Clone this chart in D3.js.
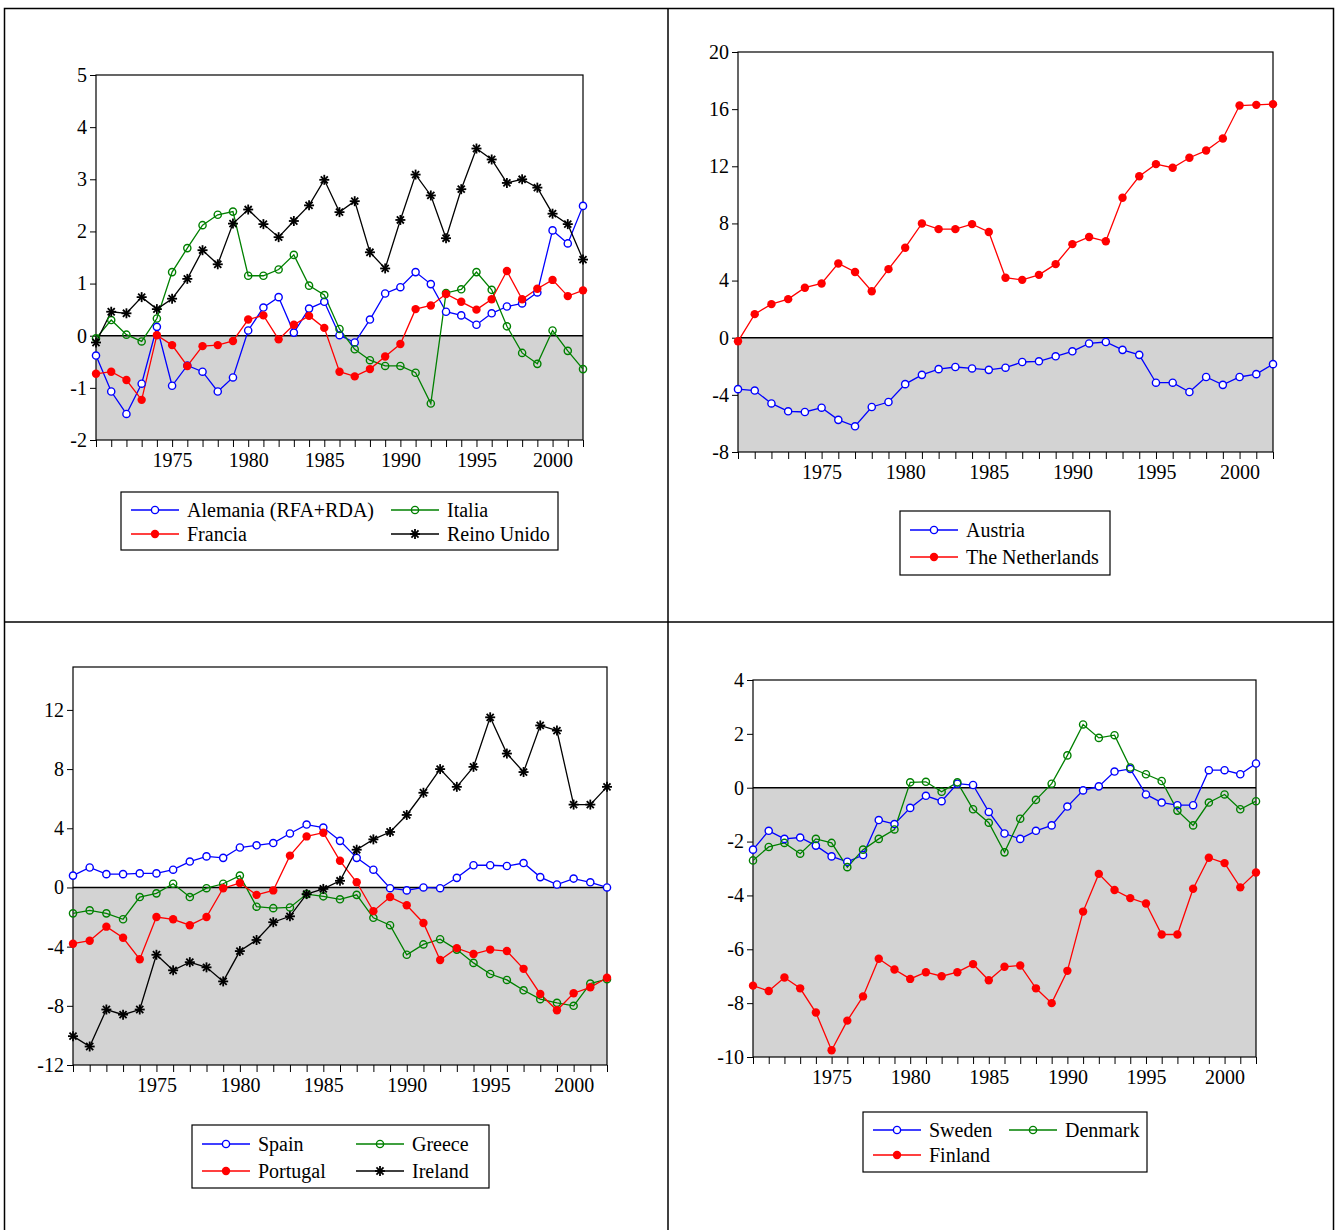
<!DOCTYPE html>
<html><head><meta charset="utf-8">
<script src="https://cdn.jsdelivr.net/npm/d3@7"></script>
<style>body{margin:0;background:#fff}svg{display:block}text{font-family:"Liberation Serif","Times New Roman",serif;fill:#000}</style>
</head><body><svg id="c" width="1336" height="1230"></svg>
<script>
const years = d3.range(1970, 2003);
const xTicks = [1975, 1980, 1985, 1990, 1995, 2000];

const alemania = [-0.38,-1.07,-1.5,-0.92,0.17,-0.96,-0.57,-0.69,-1.07,-0.8,0.1,0.54,0.74,0.06,0.52,0.65,0.01,-0.13,0.31,0.81,0.93,1.22,0.99,0.46,0.39,0.21,0.43,0.56,0.62,0.83,2.02,1.77,2.49];
const francia = [-0.73,-0.69,-0.85,-1.23,0.01,-0.18,-0.58,-0.2,-0.18,-0.1,0.31,0.39,-0.07,0.21,0.38,0.15,-0.69,-0.78,-0.64,-0.4,-0.16,0.51,0.58,0.8,0.65,0.5,0.7,1.24,0.7,0.9,1.07,0.76,0.87];
const italia = [-0.05,0.3,0.02,-0.11,0.33,1.22,1.68,2.12,2.32,2.38,1.15,1.15,1.27,1.55,0.96,0.78,0.13,-0.26,-0.47,-0.58,-0.58,-0.71,-1.3,0.82,0.89,1.22,0.88,0.18,-0.33,-0.54,0.1,-0.29,-0.64];
const reinoUnido = [-0.13,0.46,0.43,0.74,0.51,0.71,1.09,1.64,1.37,2.15,2.42,2.14,1.89,2.2,2.5,2.99,2.37,2.58,1.6,1.29,2.22,3.09,2.69,1.87,2.81,3.59,3.38,2.93,3.0,2.84,2.34,2.14,1.46];

const netherlands = [-0.25,1.65,2.35,2.7,3.5,3.8,5.2,4.6,3.25,4.8,6.3,8.0,7.6,7.6,7.95,7.4,4.2,4.05,4.4,5.15,6.55,7.05,6.75,9.8,11.3,12.15,11.9,12.6,13.1,13.95,16.25,16.3,16.35];
const austria = [-3.6,-3.7,-4.6,-5.15,-5.2,-4.9,-5.75,-6.2,-4.85,-4.5,-3.25,-2.6,-2.2,-2.05,-2.15,-2.25,-2.1,-1.7,-1.65,-1.3,-0.95,-0.4,-0.3,-0.85,-1.2,-3.15,-3.15,-3.8,-2.75,-3.3,-2.75,-2.55,-1.85];

const spain = [0.8,1.35,0.9,0.9,0.95,0.95,1.2,1.75,2.1,2.0,2.7,2.85,3.0,3.65,4.25,4.05,3.15,2.0,1.2,-0.05,-0.2,0.0,-0.05,0.65,1.5,1.5,1.45,1.65,0.7,0.2,0.6,0.35,0.0];
const portugal = [-3.8,-3.6,-2.65,-3.4,-4.85,-2.0,-2.15,-2.55,-2.0,-0.05,0.3,-0.5,-0.2,2.15,3.45,3.7,1.8,0.35,-1.6,-0.65,-1.2,-2.4,-4.9,-4.1,-4.5,-4.2,-4.3,-5.5,-7.2,-8.3,-7.15,-6.75,-6.1];
const greece = [-1.75,-1.55,-1.75,-2.15,-0.65,-0.4,0.25,-0.65,-0.05,0.25,0.8,-1.3,-1.4,-1.35,-0.45,-0.6,-0.8,-0.5,-2.05,-2.55,-4.55,-3.85,-3.5,-4.2,-5.1,-5.85,-6.25,-6.95,-7.55,-7.8,-8.0,-6.5,-6.2];
const ireland = [-10.05,-10.75,-8.25,-8.6,-8.25,-4.55,-5.6,-5.05,-5.4,-6.35,-4.3,-3.55,-2.35,-1.95,-0.45,-0.1,0.45,2.55,3.25,3.75,4.9,6.4,8.0,6.8,8.15,11.5,9.05,7.8,10.95,10.6,5.6,5.6,6.8];

const sweden = [-2.3,-1.6,-1.9,-1.85,-2.15,-2.55,-2.75,-2.5,-1.2,-1.35,-0.75,-0.3,-0.5,0.15,0.1,-0.9,-1.7,-1.9,-1.6,-1.4,-0.7,-0.1,0.05,0.6,0.7,-0.25,-0.55,-0.65,-0.65,0.65,0.65,0.5,0.9];
const denmark = [-2.7,-2.2,-2.05,-2.45,-1.9,-2.05,-2.95,-2.3,-1.9,-1.55,0.2,0.22,-0.15,0.2,-0.8,-1.3,-2.4,-1.15,-0.45,0.15,1.2,2.35,1.85,1.95,0.75,0.5,0.25,-0.85,-1.4,-0.55,-0.25,-0.8,-0.5];
const finland = [-7.35,-7.55,-7.05,-7.45,-8.35,-9.75,-8.65,-7.75,-6.35,-6.75,-7.1,-6.85,-7.0,-6.85,-6.55,-7.15,-6.65,-6.6,-7.45,-8.0,-6.8,-4.6,-3.2,-3.8,-4.1,-4.3,-5.45,-5.45,-3.75,-2.6,-2.8,-3.7,-3.15];

const svg = d3.select("#c");
svg.append("rect").attr("x",4.5).attr("y",8.5).attr("width",1329).attr("height",1225).attr("fill","none").attr("stroke","#000").attr("stroke-width",1.5);
svg.append("line").attr("x1",668).attr("x2",668).attr("y1",8).attr("y2",1230).attr("stroke","#000").attr("stroke-width",1.5);
svg.append("line").attr("x1",4).attr("x2",1334).attr("y1",622).attr("y2",622).attr("stroke","#000").attr("stroke-width",1.5);

function marker(g, type, color, x, y) {
  if (type === "open") g.append("circle").attr("cx",x).attr("cy",y).attr("r",3.6).attr("fill","#fff").attr("stroke",color).attr("stroke-width",1.4);
  else if (type === "ring") g.append("circle").attr("cx",x).attr("cy",y).attr("r",3.6).attr("fill","none").attr("stroke",color).attr("stroke-width",1.4);
  else if (type === "fill") g.append("circle").attr("cx",x).attr("cy",y).attr("r",4.2).attr("fill",color);
  else if (type === "star") {
    const r = 5;
    for (let k = 0; k < 4; k++) {
      const a = k * Math.PI / 4;
      g.append("line").attr("x1",x - r*Math.cos(a)).attr("y1",y - r*Math.sin(a)).attr("x2",x + r*Math.cos(a)).attr("y2",y + r*Math.sin(a)).attr("stroke",color).attr("stroke-width",1.8);
    }
  }
}

function panel(cfg) {
  const g = svg.append("g");
  const x = d3.scaleLinear().domain([1970, 2002]).range([cfg.x0, cfg.x1]);
  const y = d3.scaleLinear().domain(cfg.yDomain).range([cfg.y1, cfg.y0]);
  g.append("rect").attr("x",cfg.x0).attr("y",y(0)).attr("width",cfg.x1-cfg.x0).attr("height",cfg.y1-y(0)).attr("fill","#d3d3d3");
  g.append("line").attr("x1",cfg.x0).attr("x2",cfg.x1).attr("y1",y(0)).attr("y2",y(0)).attr("stroke","#000").attr("stroke-width",1.5);
  g.append("rect").attr("x",cfg.x0).attr("y",cfg.y0).attr("width",cfg.x1-cfg.x0).attr("height",cfg.y1-cfg.y0).attr("fill","none").attr("stroke","#000").attr("stroke-width",1.2);
  const ya = d3.axisLeft(y).tickValues(cfg.yTicks).tickSize(6).tickPadding(3).tickFormat(d => String(d));
  const yg = g.append("g").attr("transform",`translate(${cfg.x0},0)`).call(ya)
    .attr("font-family","Liberation Serif").attr("font-size",20);
  yg.select(".domain").remove();
  const xa = d3.axisBottom(x).tickValues(years).tickSize(7).tickFormat(d => xTicks.includes(d) ? d : "");
  const xg = g.append("g").attr("transform",`translate(0,${cfg.y1})`).call(xa)
    .attr("font-family","Liberation Serif").attr("font-size",20);
  xg.select(".domain").remove();
  xg.selectAll("text").attr("dy","0.85em");
  const line = d3.line().x((d,i) => x(years[i])).y(d => y(d));
  cfg.series.forEach(s => {
    g.append("path").datum(s.values).attr("d",line).attr("fill","none").attr("stroke",s.color).attr("stroke-width",1.3);
  });
  cfg.series.forEach(s => {
    s.values.forEach((v,i) => marker(g, s.type, s.color, x(years[i]), y(v)));
  });
  const L = cfg.legend;
  g.append("rect").attr("x",L.x).attr("y",L.y).attr("width",L.w).attr("height",L.h).attr("fill","#fff").attr("stroke","#000").attr("stroke-width",1.2);
  cfg.series.forEach((s,i) => {
    const col = L.cols === 2 ? (i % 2) : 0;
    const row = L.cols === 2 ? Math.floor(i / 2) : i;
    const lx = L.x + 10 + col * L.colW, ly = L.y + L.rowY0 + row * L.rowH;
    g.append("line").attr("x1",lx).attr("x2",lx+48).attr("y1",ly).attr("y2",ly).attr("stroke",s.color).attr("stroke-width",1.3);
    marker(g, s.type, s.color, lx+24, ly);
    g.append("text").attr("x",lx+56).attr("y",ly).attr("dy","0.35em").style("font-size","20px").text(s.name);
  });
}

panel({x0:96,x1:583,y0:75,y1:440,yDomain:[-2,5],yTicks:[-2,-1,0,1,2,3,4,5],
  series:[{name:"Alemania (RFA+RDA)",values:alemania,color:"#0000ff",type:"open"},
          {name:"Italia",values:italia,color:"#008000",type:"ring"},
          {name:"Francia",values:francia,color:"#ff0000",type:"fill"},
          {name:"Reino Unido",values:reinoUnido,color:"#000",type:"star"}],
  legend:{x:121,y:492,w:437,h:58,cols:2,colW:260,rowY0:18,rowH:24}});

panel({x0:738,x1:1273,y0:52,y1:452,yDomain:[-8,20],yTicks:[-8,-4,0,4,8,12,16,20],
  series:[{name:"Austria",values:austria,color:"#0000ff",type:"open"},
          {name:"The Netherlands",values:netherlands,color:"#ff0000",type:"fill"}],
  legend:{x:900,y:511,w:210,h:64,cols:1,colW:0,rowY0:19,rowH:27}});

panel({x0:73,x1:607,y0:667,y1:1065,yDomain:[-12,14.9],yTicks:[-12,-8,-4,0,4,8,12],
  series:[{name:"Spain",values:spain,color:"#0000ff",type:"open"},
          {name:"Greece",values:greece,color:"#008000",type:"ring"},
          {name:"Portugal",values:portugal,color:"#ff0000",type:"fill"},
          {name:"Ireland",values:ireland,color:"#000",type:"star"}],
  legend:{x:192,y:1125,w:297,h:63,cols:2,colW:154,rowY0:19,rowH:27}});

panel({x0:753,x1:1256,y0:680,y1:1057,yDomain:[-10,4],yTicks:[-10,-8,-6,-4,-2,0,2,4],
  series:[{name:"Sweden",values:sweden,color:"#0000ff",type:"open"},
          {name:"Denmark",values:denmark,color:"#008000",type:"ring"},
          {name:"Finland",values:finland,color:"#ff0000",type:"fill"}],
  legend:{x:863,y:1112,w:284,h:60,cols:2,colW:136,rowY0:18,rowH:25}});
</script></body></html>
